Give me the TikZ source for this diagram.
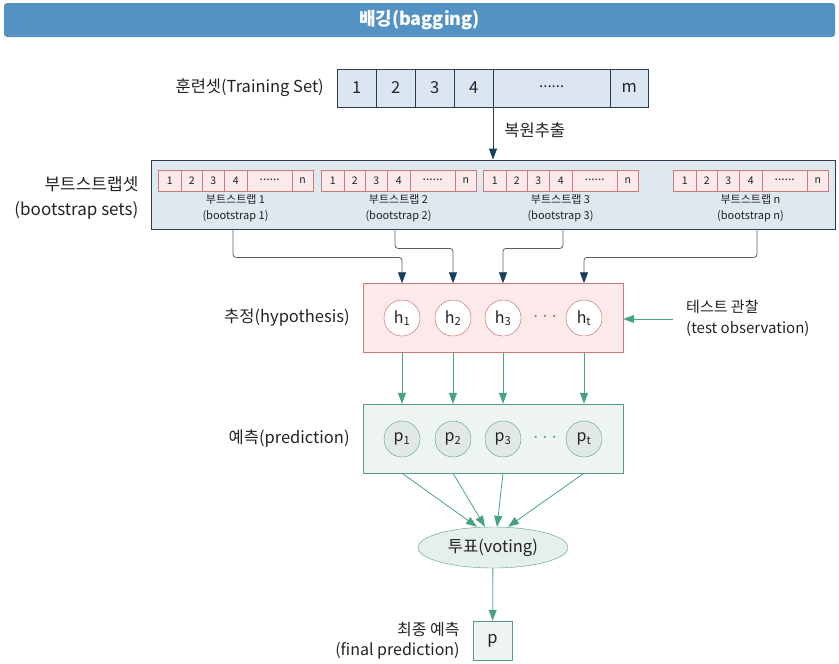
\documentclass[tikz,border=0pt]{standalone}
\usepackage{fontspec}
\setmainfont{Noto Sans CJK KR}
\usepackage{xcolor}
\usetikzlibrary{positioning,calc,arrows.meta,shapes.geometric}

\definecolor{titleblue}{RGB}{84,146,196}
\definecolor{textgrey}{RGB}{35,35,35}
\definecolor{navyline}{RGB}{40,62,80}
\definecolor{navyarrow}{RGB}{22,64,98}
\definecolor{greyline}{RGB}{95,95,95}
\definecolor{trfill}{RGB}{220,230,242}
\definecolor{bsfill}{RGB}{223,231,239}
\definecolor{pinkfill}{RGB}{252,234,234}
\definecolor{pinkline}{RGB}{204,122,124}
\definecolor{hcircline}{RGB}{192,92,92}
\definecolor{predfill}{RGB}{238,244,240}
\definecolor{greenline}{RGB}{80,160,136}
\definecolor{pcircfill}{RGB}{226,233,228}
\definecolor{votefill}{RGB}{230,240,235}
\definecolor{greenarrow}{RGB}{72,162,136}

\newcommand{\celldots}[1]{\raisebox{0.3ex}{\fontsize{#1}{#1}\selectfont ......}}

\tikzset{
  lbl/.style={text=textgrey, font=\fontsize{16.5}{22}\selectfont, inner sep=1pt},
  titlebar/.style={fill=titleblue, rounded corners=3pt, minimum width=831pt, minimum height=34pt,
    text=white, font=\fontsize{18}{18}\selectfont\bfseries},
  trcell/.style={draw=navyline, fill=trfill, minimum height=38pt, inner sep=0pt, anchor=west,
    text=textgrey, font=\fontsize{16.5}{16.5}\selectfont},
  bsbox/.style={draw=navyline, line width=0.8pt, fill=bsfill, minimum width=684pt, minimum height=69pt},
  bscell/.style={draw=pinkline, fill=pinkfill, minimum height=21pt, inner sep=0pt, anchor=west,
    text=textgrey, font=\fontsize{10.5}{10.5}\selectfont},
  bslbl/.style={text=textgrey, font=\fontsize{11}{16}\selectfont, align=center, inner sep=0pt},
  hypbox/.style={draw=pinkline, fill=pinkfill, minimum width=260pt, minimum height=69pt},
  hcirc/.style={circle, draw=hcircline, fill=white, minimum size=36pt, inner sep=0pt,
    text=textgrey, font=\fontsize{16}{16}\selectfont},
  predbox/.style={draw=greenline, fill=predfill, minimum width=260pt, minimum height=69pt},
  pcirc/.style={circle, draw=greenline, fill=pcircfill, minimum size=36pt, inner sep=0pt,
    text=textgrey, font=\fontsize{16}{16}\selectfont},
  votebox/.style={ellipse, draw=greenline, fill=votefill, minimum width=150pt, minimum height=41pt,
    inner sep=0pt, text=textgrey, font=\fontsize{16.5}{16.5}\selectfont},
  finbox/.style={draw=greenline, fill=predfill, minimum width=39pt, minimum height=39pt,
    text=textgrey, font=\fontsize{16.5}{16.5}\selectfont},
  navyline/.style={draw=navyline, line width=0.8pt, -{Triangle[width=8pt,length=11pt,color=navyarrow]}},
  bsline/.style={draw=greyline, line width=0.8pt, rounded corners=3pt,
    -{Triangle[width=8pt,length=11pt,color=navyarrow]}},
  garrow/.style={draw=greenarrow, line width=0.8pt, -{Triangle[width=8pt,length=11pt,color=greenarrow]}}
}

\begin{document}
\begin{tikzpicture}[x=1pt,y=-1pt]
    \useasboundingbox (0,0) rectangle (839,664);

    \node[titlebar] (title) at (419.5,20) {배깅(bagging)};

    \foreach \x/\cw/\ct [count=\i] in {337/39/1,376/39/2,415/39/3,454/39/4,493/117/{\celldots{15}},610/38/m}
        \node[trcell, minimum width=\cw pt] (tr\i) at (\x,88) {\ct};
    \node[lbl, left=12pt of tr1] (trlbl) {훈련셋(Training Set)};

    \node[bsbox] (bs) at (493,194.5) {};
    \node[lbl, left=11pt of bs, yshift=-3pt, align=right, font=\fontsize{17}{25}\selectfont] (bslbl) {부트스트랩셋\\(bootstrap sets)};
    \draw[navyline] (tr5.south west) -- (tr5.south west |- bs.north)
        node[pos=0.45, right=10pt, lbl] (sample) {복원추출};

    \foreach \sx/\k [count=\s] in {158/1,321/2,483/3,673/n} {
        \foreach \ox/\cw/\ct [count=\i] in {0/23/1,23/21/2,44/22/3,66/23/4,89/45/{\celldots{12}},134/21/n}
            \node[bscell, minimum width=\cw pt] (b\s-\i) at (\sx+\ox,180.5) {\ct};
        \node[bslbl] (bl\s) at (\sx+77.5,208) {부트스트랩 \k\\(bootstrap \k)};
    }

    \node[hypbox] (hyp) at (493,318) {};
    \node[lbl, left=12pt of hyp] (hyplbl) {추정(hypothesis)};
    \foreach \x/\k in {402/1,453/2,503/3,584/t}
        \node[hcirc] (h\k) at (\x,318) {h\textsubscript{\k}};
    \node[text=hcircline, font=\fontsize{20}{20}\selectfont] (hdots) at (545,317) {$\cdots$};

    \draw[bsline] (233,0 |- bs.south) -- ++(0,28) -| (h1 |- hyp.north);
    \draw[bsline] (395,0 |- bs.south) -- ++(0,19) -| (h2 |- hyp.north);
    \draw[bsline] (563,0 |- bs.south) -- ++(0,19) -| (h3 |- hyp.north);
    \draw[bsline] (757,0 |- bs.south) -- ++(0,28) -| (ht |- hyp.north);

    \node[lbl, anchor=west, align=left, font=\fontsize{15}{21}\selectfont] (tobs) at (685,318) {테스트 관찰\\(test observation)};
    \draw[garrow] (tobs.west) ++(-12,1) -- (hyp.east |- 0,319);

    \node[predbox] (pred) at (493,438.5) {};
    \node[lbl, left=12pt of pred] (predlbl) {예측(prediction)};
    \foreach \x/\k in {402/1,453/2,503/3,584/t}
        \node[pcirc] (p\k) at (\x,439) {p\textsubscript{\k}};
    \node[text=greenline, font=\fontsize{20}{20}\selectfont] (pdots) at (545,438) {$\cdots$};

    \foreach \k in {1,2,3,t}
        \draw[garrow] (h\k |- hyp.south) -- (p\k |- pred.north);

    \node[votebox] (vote) at (493,547.5) {투표(voting)};
    \foreach \k/\dx in {1/-16,2/-8,3/4,t/15}
        \draw[garrow] (p\k |- pred.south) -- ([xshift=\dx pt]vote.north);

    \node[finbox] (fin) at (492.5,640.5) {p};
    \node[lbl, left=12pt of fin, align=right, font=\fontsize{16}{20}\selectfont] (finlbl) {최종 예측\\(final prediction)};
    \draw[garrow] (vote) -- (fin);
\end{tikzpicture}
\end{document}
